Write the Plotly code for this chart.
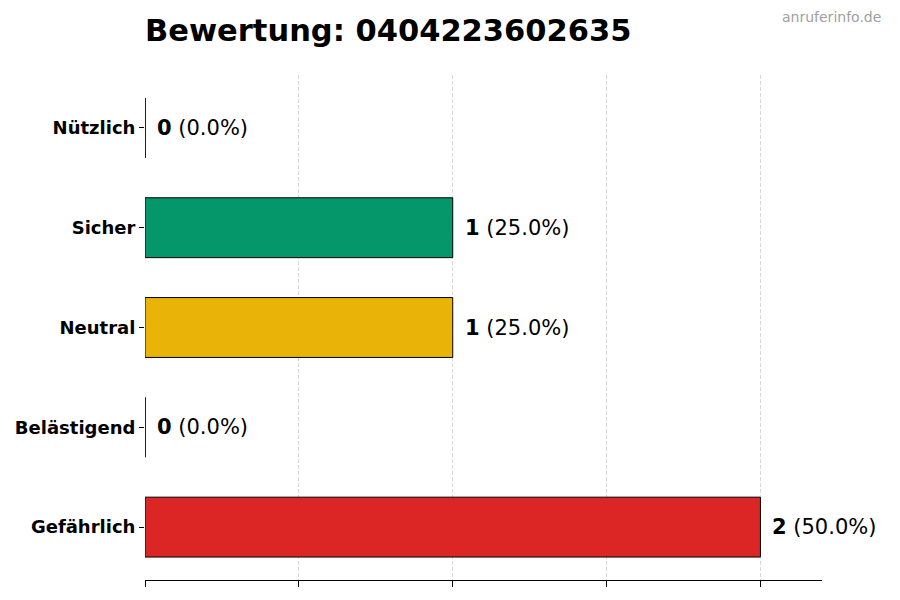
import plotly.graph_objects as go

categories = ["Gefährlich", "Belästigend", "Neutral", "Sicher", "Nützlich"]
counts = [2, 0, 1, 1, 0]
colors = ["#DC2626", "#F97316", "#EAB308", "#059669", "#3B82F6"]
phone = "0404223602635"

total = sum(counts)
percents = [c * 100.0 / total for c in counts]

fig = go.Figure()

fig.add_trace(go.Bar(
    x=counts,
    y=categories,
    orientation="h",
    width=0.6,
    marker=dict(color=colors, line=dict(color="black", width=1)),
    hoverinfo="skip",
))

# zero bars still show their edge in the original
for cat, c in zip(categories, counts):
    if c == 0:
        i = categories.index(cat)
        fig.add_shape(type="line", xref="x", yref="y",
                      x0=0, x1=0, y0=i - 0.3, y1=i + 0.3,
                      line=dict(color="black", width=1))

for cat, c, p in zip(categories, counts, percents):
    fig.add_annotation(
        x=c, y=cat, xref="x", yref="y",
        text="<b>{}</b> ({:.1f}%)".format(c, p),
        showarrow=False, xanchor="left", xshift=10,
        font=dict(family="DejaVu Sans", size=21, color="black"),
    )

fig.add_annotation(
    text="anruferinfo.de", xref="paper", yref="paper",
    x=1.09, y=1.115, xanchor="right", yanchor="middle", showarrow=False,
    font=dict(family="DejaVu Sans", size=14, color="#A0A0A0"),
)

# the page puts the figure 8px in from the top-left corner
fig.update_layout(
    width=900, height=600,
    paper_bgcolor="white", plot_bgcolor="white",
    margin=dict(l=137, r=86, t=67, b=28),
    showlegend=False,
    title=dict(text="<b>Bewertung: {}</b>".format(phone), x=137 / 900, xanchor="left",
               y=0.963, yanchor="middle",
               font=dict(family="DejaVu Sans", size=30.5, color="black")),
    font=dict(family="DejaVu Sans", color="black"),
)

fig.update_xaxes(
    range=[0, 2.2], dtick=0.5, tick0=0,
    showticklabels=False, ticks="outside", ticklen=6, tickcolor="black",
    showline=True, linecolor="black", linewidth=1,
    showgrid=True, gridcolor="rgba(190,190,190,0.6)", griddash="4px,2px", gridwidth=1,
    zeroline=False, layer="above traces", automargin=False,
)

fig.update_yaxes(
    range=[-0.53, 4.53],
    tickmode="array", tickvals=categories,
    ticktext=["<b>{}</b>".format(c) for c in categories],
    tickfont=dict(family="DejaVu Sans", size=18, color="black"),
    ticks="outside", ticklen=5, tickcolor="black",
    showline=False, showgrid=False, zeroline=False, automargin=False,
)

fig.write_html("out.html")
